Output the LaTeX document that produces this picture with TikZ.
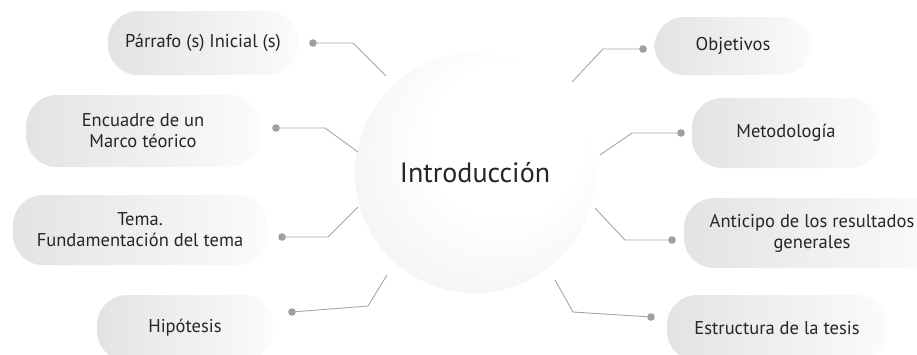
\documentclass[tikz,border=0pt]{standalone}
\usepackage{fontspec}
\setmainfont{PT Sans}
\usepackage{tikz}

\pgfdeclareradialshading{bola}{\pgfpoint{10bp}{10bp}}{color(0bp)=(white); color(16bp)=(white); color(32bp)=(gray!9); color(48bp)=(gray!20)}

\tikzset{
    tema/.style={rectangle, rounded corners=30pt, draw=none, left color=gray!22, right color=gray!3,
        align=center, font=\fontsize{18.5}{21}\selectfont, text=black!85},
    enlace/.style={gray!70, line width=0.9pt},
    punto/.style={fill=gray!75}
}

\begin{document}
\begin{tikzpicture}[x=1pt, y=-1pt]
    % Frame of the picture
    \useasboundingbox (0,0) rectangle (917,354);
    \clip (0,0) rectangle (917,354);

    % Central circle
    \shade[shading=bola] (475,173) circle (120);
    \node (intro) at (475,173) {\fontsize{28}{32}\selectfont\color{black!85}Introducción};

    % Left boxes
    \node[tema, minimum width=190pt, minimum height=64pt] (parrafo) at (203,43) {Párrafo (s) Inicial (s)};
    \node[tema, minimum width=233pt, minimum height=72pt] (marco) at (143,131) {Encuadre de un\\Marco téorico};
    \node[tema, minimum width=254pt, minimum height=70pt] (tema) at (140,230) {Tema.\\Fundamentación del tema};
    \node[tema, minimum width=176pt, minimum height=66pt] (hipotesis) at (185,328) {Hipótesis};

    % Right boxes
    \node[tema, minimum width=157pt, minimum height=58pt] (objetivos) at (733,46) {Objetivos};
    \node[tema, minimum width=188pt, minimum height=70pt] (metodo) at (786,133) {Metodología};
    \node[tema, minimum width=256pt, minimum height=70pt] (anticipo) at (812,233) {Anticipo de los resultados\\generales};
    \node[tema, minimum width=220pt, minimum height=66pt] (estructura) at (777,328) {Estructura de la tesis};

    % Dots next to the boxes
    \coordinate (d1) at (313,43);
    \coordinate (d2) at (276,128);
    \coordinate (d3) at (282,237);
    \coordinate (d4) at (292,312);
    \coordinate (d5) at (643,49);
    \coordinate (d6) at (681,133);
    \coordinate (d7) at (672,240);
    \coordinate (d8) at (651,317);

    % Free ends near the circle
    \coordinate (c1) at (386,76);
    \coordinate (c2) at (358,152);
    \coordinate (c3) at (358,207);
    \coordinate (c4) at (387,275);
    \coordinate (c5) at (572,82);
    \coordinate (c6) at (600,155);
    \coordinate (c7) at (595,208);
    \coordinate (c8) at (555,280);

    % Connectors
    \draw[enlace] (d1) -- (353,43) -- (c1);
    \draw[enlace] (d2) -- (325,128) -- (c2);
    \draw[enlace] (d3) -- (328,237) -- (c3);
    \draw[enlace] (d4) -- (368,306) -- (c4);
    \draw[enlace] (d5) -- (603,49) -- (c5);
    \draw[enlace] (d6) -- (632,133) -- (c6);
    \draw[enlace] (d7) -- (625,240) -- (c7);
    \draw[enlace] (d8) -- (573,312) -- (c8);

    \foreach \d in {d1,d2,d3,d4,d5,d6,d7,d8} {
        \fill[punto] (\d) circle (3.8);
    }
\end{tikzpicture}
\end{document}
